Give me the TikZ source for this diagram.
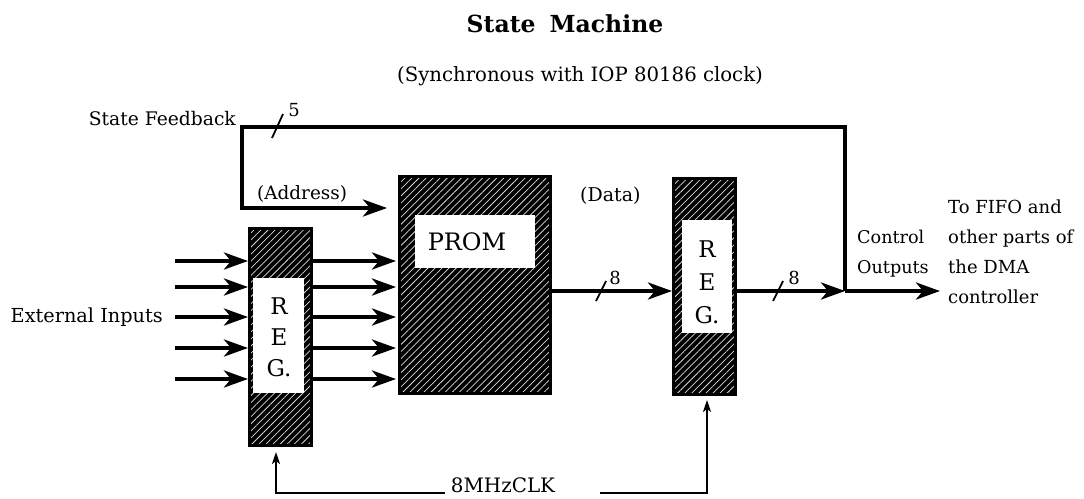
\documentclass[tikz,border=0pt]{standalone}
\usepackage{fontspec}
\setmainfont{DejaVu Serif}
\usetikzlibrary{arrows.meta,patterns.meta}
\begin{document}
\begin{tikzpicture}[x=1pt,y=-1pt,
  hatchbox/.style={preaction={fill=black},
    preaction={pattern={Lines[angle=45,distance=5pt,line width=0.75pt]},pattern color=white!85!black},
    draw=black, line width=3pt, inner sep=0pt},
  whitebox/.style={fill=white, draw=none, inner sep=0pt},
  lbl/.style={font=\fontsize{19}{22}\selectfont, inner sep=0pt},
  rlbl/.style={font=\fontsize{18}{22}\selectfont, inner sep=0pt, anchor=base west},
  big/.style={font=\fontsize{23}{31}\selectfont, inner sep=0pt, align=center},
  num/.style={font=\fontsize{18}{20}\selectfont, inner sep=0pt},
  thickarrow/.style={line width=4pt, -{Stealth[length=24pt,width=17pt,inset=7pt]}},
  busline/.style={line width=4.5pt, line join=miter},
  slash/.style={line width=1.8pt},
  clk/.style={line width=2pt, -{Stealth[length=12pt,width=8pt,inset=3pt]}}
]
\useasboundingbox (0,0) rectangle (1084,498);

% titles
\node[font=\fontsize{23.5}{26}\selectfont\bfseries, inner sep=0pt] (title) at (565,24) {State\hspace{0.6em}Machine};
\node[lbl, font=\fontsize{19.7}{22}\selectfont] (sub) at (580,76) {(Synchronous with IOP 80186 clock)};

% boxes
\node[hatchbox, minimum width=62pt, minimum height=217pt] (reg1) at (280.5,337) {};
\node[whitebox, minimum width=51pt, minimum height=115pt] (reg1in) at (278.5,335.5) {};
\node[big] (reg1t) at (279,337) {R\\E\\G.};

\node[hatchbox, minimum width=151pt, minimum height=217pt] (prom) at (475,285) {};
\node[whitebox, minimum width=120pt, minimum height=53pt] (promin) at (475,241.5) {};
\node[big, font=\fontsize{24}{28}\selectfont] (promt) at (467,241.5) {PROM};

\node[hatchbox, minimum width=62pt, minimum height=216pt] (reg2) at (704.5,286.5) {};
\node[whitebox, minimum width=50pt, minimum height=113pt] (reg2in) at (707,276.5) {};
\node[big, font=\fontsize{23}{33}\selectfont] (reg2t) at (707,282) {R\\E\\G.};

% labels
\node[lbl, anchor=base east, font=\fontsize{18.7}{22}\selectfont] (sfb) at (236,125) {State Feedback};
\node[lbl, anchor=base west, font=\fontsize{18.4}{22}\selectfont] (addrl) at (257,199) {(Address)};
\node[lbl, anchor=base west] (datal) at (580,201) {(Data)};
\node[lbl, anchor=east, font=\fontsize{19.3}{22}\selectfont] (ext) at (163,317) {External Inputs};
\node[rlbl, font=\fontsize{17.6}{22}\selectfont] (ctl1) at (857,243) {Control};
\node[rlbl, font=\fontsize{17.6}{22}\selectfont] (ctl2) at (857,273) {Outputs};
\node[rlbl] (to1) at (948,213) {To FIFO and};
\node[rlbl] (to2) at (948,243) {other parts of};
\node[rlbl] (to3) at (948,273) {the DMA};
\node[rlbl] (to4) at (948,303) {controller};
\node[lbl, font=\fontsize{19.9}{22}\selectfont] (clk) at (503,485) {8MHzCLK};

% external inputs
\foreach \i/\y in {1/261,2/287,3/317,4/348,5/379}{
  \coordinate (in\i) at (175,\y);
  \draw[thickarrow] (in\i) -- (in\i -| reg1.west);
  \coordinate (mid\i) at (313,\y);
  \draw[thickarrow, shorten >=2pt] (mid\i -| reg1.east) -- (mid\i -| prom.west);
}

% data bus
\coordinate (J) at (845,291);
\coordinate (out) at (940,291);
\draw[thickarrow] (prom.east |- J) -- (reg2.west |- J);
\draw[thickarrow] (reg2.east |- J) -- (J);
\draw[thickarrow] (J) -- (out);

% feedback
\coordinate (fbTR) at (845,127);
\coordinate (fbTL) at (242,127);
\coordinate (addr) at (387,208);
\draw[busline] (J) -- (fbTR) -- (fbTL) -- (fbTL |- addr) -- ([xshift=-10pt]addr);
\draw[thickarrow] ([xshift=-20pt]addr) -- (addr);

% slashes
\draw[slash] (272,138) -- (283,114);
\node[num] (n5) at (294,110) {5};
\draw[slash] (596,301) -- (606,281);
\node[num] (n8a) at (615,278) {8};
\draw[slash] (773,301) -- (783,281);
\node[num] (n8b) at (794,278) {8};

% clock
\coordinate (clkL) at (445,493);
\coordinate (clkR) at (600,493);
\coordinate (clk1) at (276,452);
\coordinate (clk2) at (707,400);
\draw[clk] (clkL) -| (clk1);
\draw[clk] (clkR) -| (clk2);
\end{tikzpicture}
\end{document}
